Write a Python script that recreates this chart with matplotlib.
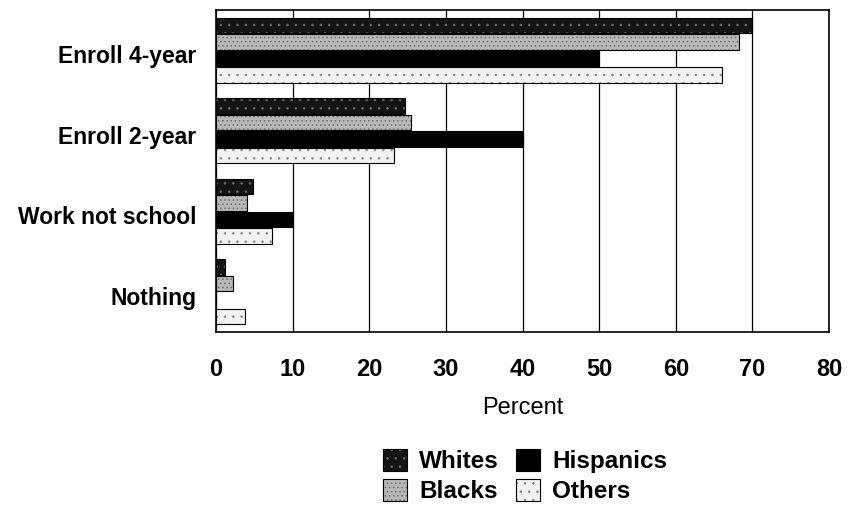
import matplotlib
matplotlib.use("Agg")
import matplotlib.pyplot as plt
import numpy as np

plt.rcParams['font.family'] = ['Liberation Sans', 'DejaVu Sans']
plt.rcParams['hatch.linewidth'] = 0.6

categories = ["Enroll 4-year", "Enroll 2-year", "Work not school", "Nothing"]
series = ["Whites", "Blacks", "Hispanics", "Others"]
whites = [70.0, 24.7, 4.8, 1.2]
blacks = [68.3, 25.5, 4.1, 2.2]
hispanics = [49.9, 40.0, 10.1, 0.0]
others = [66.0, 23.2, 7.3, 3.8]
x_ticks = [0, 10, 20, 30, 40, 50, 60, 70, 80]

styles = {
    "Whites": dict(color="#141414", hatch="..", hatch_color="#6a6a6a"),
    "Blacks": dict(color="#b8b8b8", hatch="....", hatch_color="#6e6e6e"),
    "Hispanics": dict(color="#000000", hatch=None, hatch_color="#000000"),
    "Others": dict(color="#f2f2f2", hatch="..", hatch_color="#8a8a8a"),
}
values = {"Whites": whites, "Blacks": blacks, "Hispanics": hispanics, "Others": others}

fig = plt.figure(figsize=(8.48, 5.17), dpi=100)
ax = fig.add_axes([216 / 848, 1 - 332 / 517, (829 - 216) / 848, (332 - 10) / 517])

n_groups = len(categories)
group = np.arange(n_groups)
bar_h = 0.19
offsets = np.array([-1.5, -0.5, 0.5, 1.5]) * 0.205

handles = []
for i, name in enumerate(series):
    st = styles[name]
    bars = ax.barh(group + offsets[i], values[name], height=bar_h,
                   color=st["color"], edgecolor="black", linewidth=0.8,
                   zorder=3, label=name)
    if st["hatch"]:
        for b in bars:
            b.set_hatch(st["hatch"])
            b._hatch_color = matplotlib.colors.to_rgba(st["hatch_color"])
    handles.append(bars)

ax.set_ylim(n_groups - 0.5, -0.5)
ax.set_xlim(0, 80)
ax.set_yticks(group + 0.05)
ax.set_yticklabels(categories, fontsize=16.5, fontweight="bold")
ax.tick_params(axis="y", length=0, pad=14)
ax.set_xticks(x_ticks)
ax.set_xticklabels([str(t) for t in x_ticks], fontsize=17, fontweight="bold")
ax.tick_params(axis="x", length=0, pad=19)
ax.grid(axis="x", color="black", linewidth=0.9, zorder=0)
for s in ax.spines.values():
    s.set_color("black")
    s.set_linewidth(1.2)

ax.set_xlabel("Percent", fontsize=17, labelpad=11)

# two-column legend: Whites, Hispanics / Blacks, Others
leg = fig.legend(handles, series,
                 ncol=2, loc="center", bbox_to_anchor=(0.619, 0.079),
                 frameon=False, prop=dict(size=17.5, weight="bold"),
                 handlelength=1.0, handleheight=1.0, handletextpad=0.5,
                 columnspacing=0.7, labelspacing=0.25)

fig.savefig("out.png", dpi=100)
